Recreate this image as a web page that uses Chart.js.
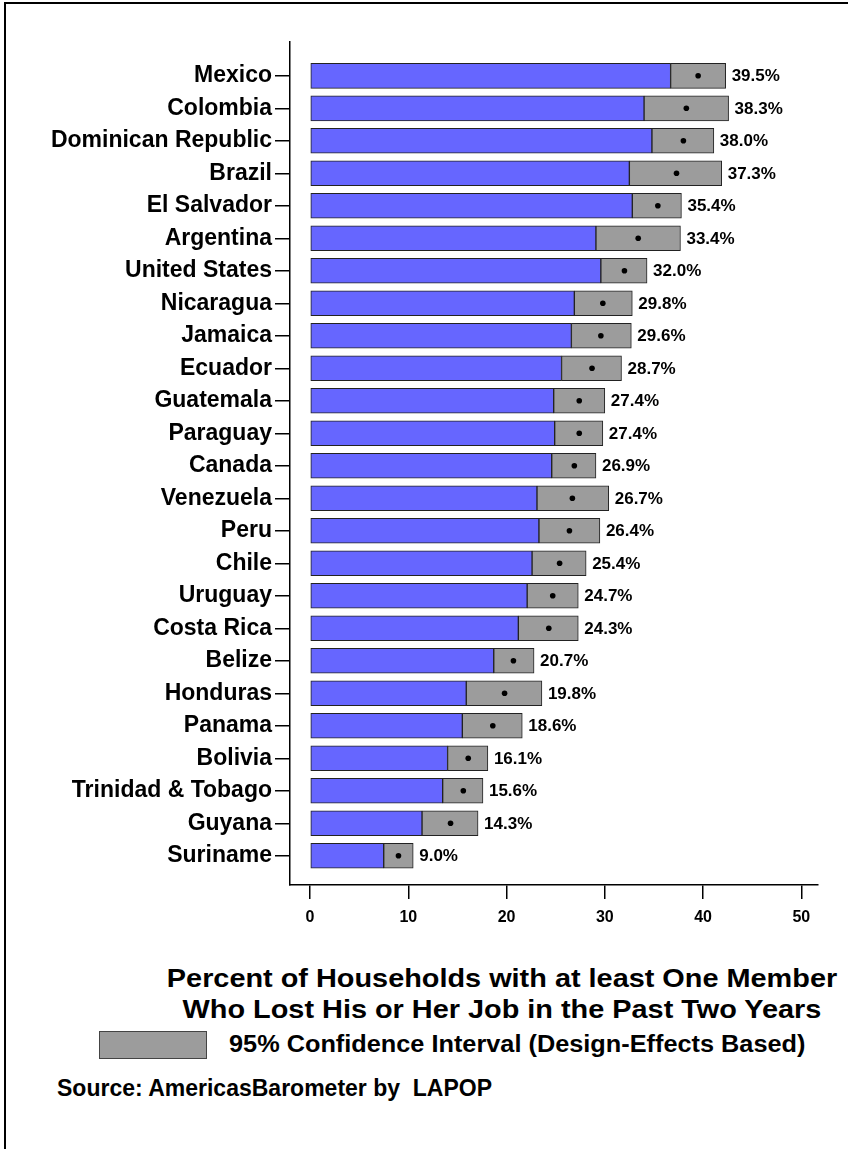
<!DOCTYPE html>
<html>
<head>
<meta charset="utf-8">
<script src="https://cdn.jsdelivr.net/npm/chart.js@4.4.1/dist/chart.umd.min.js"></script>
<style>
  body { margin: 0; background: #fff; width: 848px; height: 1149px; overflow: hidden; position: relative;
         font-family: 'Liberation Sans', Arial, sans-serif; font-weight: bold; color: #000; }
  #frame { position: absolute; left: 4px; top: 2px; width: 900px; height: 1200px;
           border-top: 2px solid #000; border-left: 2px solid #000; }
  #wrap { position: absolute; left: 0; top: 0; width: 848px; height: 940px; }
  #title { position: absolute; left: 102px; top: 963px; width: 800px; text-align: center;
           font-size: 26px; line-height: 31px; white-space: nowrap;
           transform: scaleX(1.11); transform-origin: 400px 0; }
  #legbox { position: absolute; left: 99px; top: 1031px; width: 106px; height: 26px;
            background: #9c9c9c; border: 1px solid #444; }
  #legtext { position: absolute; left: 229px; top: 1033px; font-size: 23px; line-height: 23px; white-space: nowrap;
             transform: scaleX(1.1); transform-origin: 0 0; }
  #source { position: absolute; left: 57px; top: 1077px; font-size: 23px; line-height: 23px; white-space: pre; }
</style>
</head>
<body>
<div id="frame"></div>
<div id="wrap"><canvas id="chart"></canvas></div>
<div id="title">Percent of Households with at least One Member<br>Who Lost His or Her Job in the Past Two Years</div>
<div id="legbox"></div>
<div id="legtext">95% Confidence Interval (Design-Effects Based)</div>
<div id="source">Source: AmericasBarometer by  LAPOP</div>
<script>
const countries = ['Mexico', 'Colombia', 'Dominican Republic', 'Brazil', 'El Salvador', 'Argentina',
  'United States', 'Nicaragua', 'Jamaica', 'Ecuador', 'Guatemala', 'Paraguay', 'Canada', 'Venezuela',
  'Peru', 'Chile', 'Uruguay', 'Costa Rica', 'Belize', 'Honduras', 'Panama', 'Bolivia',
  'Trinidad & Tobago', 'Guyana', 'Suriname'];
const means = [39.5, 38.3, 38.0, 37.3, 35.4, 33.4, 32.0, 29.8, 29.6, 28.7, 27.4, 27.4, 26.9, 26.7,
  26.4, 25.4, 24.7, 24.3, 20.7, 19.8, 18.6, 16.1, 15.6, 14.3, 9.0];
// 95% CI bounds
const lower = [36.7, 34.0, 34.8, 32.5, 32.8, 29.1, 29.6, 26.9, 26.6, 25.6, 24.8, 24.9, 24.6, 23.1,
  23.3, 22.6, 22.1, 21.2, 18.7, 15.9, 15.5, 14.0, 13.5, 11.4, 7.5];
const upper = [42.3, 42.6, 41.1, 41.9, 37.8, 37.7, 34.3, 32.8, 32.7, 31.7, 30.0, 29.8, 29.1, 30.4,
  29.5, 28.1, 27.3, 27.3, 22.8, 23.6, 21.6, 18.1, 17.6, 17.1, 10.5];
const xTicks = [0, 10, 20, 30, 40, 50];

const FONT = "'Liberation Sans', Arial, sans-serif";

const valueLabels = {
  id: 'valueLabels',
  afterDatasetsDraw(chart) {
    const { ctx, scales } = chart;
    ctx.save();
    ctx.font = 'bold 17px ' + FONT;
    ctx.fillStyle = '#000';
    ctx.textAlign = 'left';
    ctx.textBaseline = 'middle';
    means.forEach((m, i) => {
      const x = scales.x.getPixelForValue(upper[i]) + 6;
      const y = scales.y.getPixelForValue(i);
      ctx.fillText(m.toFixed(1) + '%', x, y + 1);
    });
    ctx.restore();
  }
};

new Chart(document.getElementById('chart'), {
  data: {
    datasets: [
      {
        type: 'scatter',
        order: 0,
        data: means.map((m, i) => ({ x: m, y: i })),
        pointRadius: 2.8,
        pointBackgroundColor: '#000',
        pointBorderWidth: 0
      },
      {
        type: 'bar',
        order: 1,
        indexAxis: 'y',
        grouped: false,
        data: lower.map((v, i) => ({ x: [lower[i], upper[i]], y: i })),
        backgroundColor: '#9c9c9c',
        borderColor: '#222',
        borderWidth: 1,
        borderSkipped: false,
        barThickness: 25
      },
      {
        type: 'bar',
        order: 2,
        indexAxis: 'y',
        grouped: false,
        data: lower.map((v, i) => ({ x: [0, v], y: i })),
        backgroundColor: '#6666ff',
        borderColor: '#222',
        borderWidth: 1,
        borderSkipped: false,
        barThickness: 25
      }
    ]
  },
  options: {
    responsive: true,
    maintainAspectRatio: false,
    animation: false,
    layout: { padding: { top: 42, right: 30, left: 0, bottom: 0 } },
    plugins: { legend: { display: false }, tooltip: { enabled: false } },
    scales: {
      x: {
        type: 'linear',
        min: -2.04,
        max: 51.7,
        offset: false,
        afterBuildTicks: (s) => { s.ticks = xTicks.map(v => ({ value: v })); },
        afterFit: (s) => { s.height = 55; },
        grid: { offset: false, drawOnChartArea: false, drawTicks: true, tickLength: 14, color: '#000', lineWidth: 1.5 },
        border: { display: true, color: '#000', width: 1.5 },
        ticks: { color: '#000', padding: 9, font: { family: FONT, size: 16, weight: 'bold' } }
      },
      y: {
        type: 'linear',
        reverse: true,
        min: -1.04,
        max: 24.9,
        offset: false,
        afterBuildTicks: (s) => { s.ticks = countries.map((c, i) => ({ value: i })); },
        afterFit: (s) => { s.width = 290; },
        grid: { offset: false, drawOnChartArea: false, drawTicks: true, tickLength: 15, color: '#000', lineWidth: 1.5 },
        border: { display: true, color: '#000', width: 1.5 },
        ticks: {
          color: '#000', padding: 3,
          font: { family: FONT, size: 23, weight: 'bold' },
          callback: (v) => countries[v]
        }
      }
    }
  },
  plugins: [valueLabels]
});
</script>
</body>
</html>
